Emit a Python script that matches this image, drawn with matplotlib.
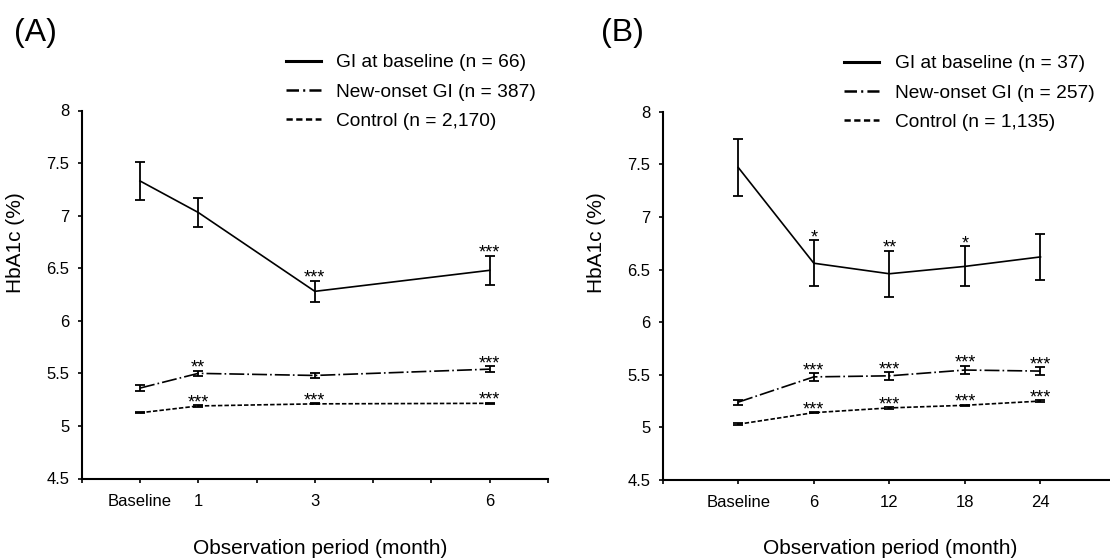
import matplotlib
matplotlib.use("Agg")
import matplotlib.pyplot as plt
from matplotlib.lines import Line2D
from matplotlib.ticker import FuncFormatter, FixedLocator

plt.rcParams["font.family"] = ["Liberation Sans", "DejaVu Sans"]
plt.rcParams["lines.scale_dashes"] = False

# ---- data: panel (A), months after baseline ----
a_months = [0, 1, 3, 6]
a_tick_labels = ["Baseline", "1", "3", "6"]
a_gi = [7.33, 7.03, 6.28, 6.48]
a_gi_err = [0.18, 0.135, 0.10, 0.14]
a_new = [5.36, 5.50, 5.48, 5.54]
a_new_err = [0.025, 0.027, 0.025, 0.027]
a_ctrl = [5.125, 5.19, 5.21, 5.215]
a_ctrl_err = [0.006, 0.006, 0.006, 0.006]
a_gi_stars = ["", "", "***", "***"]
a_new_stars = ["", "**", "", "***"]
a_ctrl_stars = ["", "***", "***", "***"]
a_legend = ["GI at baseline (n = 66)", "New-onset GI (n = 387)", "Control (n = 2,170)"]

# ---- data: panel (B), months after baseline ----
b_months = [0, 6, 12, 18, 24]
b_tick_labels = ["Baseline", "6", "12", "18", "24"]
b_gi = [7.47, 6.56, 6.46, 6.53, 6.62]
b_gi_err = [0.27, 0.22, 0.22, 0.19, 0.22]
b_new = [5.24, 5.48, 5.49, 5.545, 5.535]
b_new_err = [0.025, 0.035, 0.035, 0.04, 0.035]
b_ctrl = [5.03, 5.14, 5.185, 5.21, 5.25]
b_ctrl_err = [0.007, 0.007, 0.007, 0.007, 0.007]
b_gi_stars = ["", "*", "**", "*", ""]
b_new_stars = ["", "***", "***", "***", "***"]
b_ctrl_stars = ["", "***", "***", "***", "***"]
b_legend = ["GI at baseline (n = 37)", "New-onset GI (n = 257)", "Control (n = 1,135)"]

W, H = 1110, 560
DASHDOT = (0, (10.8, 2.2, 1.2, 2.2))
DASHED = (0, (3.2, 1.5))


def fx(px):
    return px / W


def fy(py):
    return 1 - py / H


def draw_panel(ax, x, series, ticks, tick_labels, xlim):
    for vals, errs, stars, ls in series:
        ax.errorbar(x, vals, yerr=errs, fmt="none", ecolor="black",
                    elinewidth=1.3, capsize=3.5, capthick=1.3, zorder=3)
        ax.plot(x, vals, color="black", lw=1.2, linestyle=ls, zorder=2)
        for xi, v, e, s in zip(x, vals, errs, stars):
            if s:
                ax.annotate(s, (xi, v + e), xytext=(0, -1.5), textcoords="offset points",
                            ha="center", va="baseline", fontsize=13)

    ax.set_xlim(*xlim)
    ax.set_ylim(4.5, 8)
    ax.set_yticks([4.5 + 0.5 * i for i in range(8)])
    ax.yaxis.set_major_formatter(FuncFormatter(lambda v, p: "%g" % v))
    ax.xaxis.set_major_locator(FixedLocator(ticks))
    ax.set_xticklabels(tick_labels)
    ax.spines["top"].set_visible(False)
    ax.spines["right"].set_visible(False)
    ax.spines["left"].set_linewidth(1.5)
    ax.spines["bottom"].set_linewidth(1.5)
    ax.tick_params(direction="out", length=3, width=1.2, labelsize=12, colors="black")
    ax.tick_params(axis="y", pad=6)
    ax.tick_params(axis="x", pad=8)


def add_legend(ax, labels, x0, y0):
    handles = [
        Line2D([], [], color="black", lw=2.2, linestyle="-"),
        Line2D([], [], color="black", lw=1.8, linestyle=(0, (9, 3, 1.5, 3))),
        Line2D([], [], color="black", lw=1.8, linestyle=(0, (4.5, 2.5))),
    ]
    ax.legend(handles, labels, loc="upper left", bbox_to_anchor=(fx(x0), fy(y0)),
              bbox_transform=ax.figure.transFigure, frameon=False, fontsize=13.8,
              borderpad=0, borderaxespad=0, handlelength=1.85, handletextpad=0.8,
              labelspacing=0.62)


fig = plt.figure(figsize=(W / 100, H / 100), dpi=100)

# Panel (A)
ax_a = fig.add_axes([fx(81.7), fy(478.5), fx(548 - 81.7), (478.5 - 110.5) / H])
a_x = a_months
a_ticks = list(range(-1, 8))
a_labels = []
for t in a_ticks:
    a_labels.append(a_tick_labels[a_months.index(t)] if t in a_months else "")
draw_panel(ax_a, a_x,
           [(a_gi, a_gi_err, a_gi_stars, "-"),
            (a_new, a_new_err, a_new_stars, DASHDOT),
            (a_ctrl, a_ctrl_err, a_ctrl_stars, DASHED)],
           a_ticks, a_labels, (-1, 7))
add_legend(ax_a, a_legend, 285.5, 54)

# Panel (B): one tick step = 6 months
ax_b = fig.add_axes([fx(662.7), fy(480), 1 - fx(662.7), (480 - 111.7) / H])
b_x = [m / 6 for m in b_months]
b_ticks = list(range(-1, 5))
b_labels = [""] + b_tick_labels
draw_panel(ax_b, b_x,
           [(b_gi, b_gi_err, b_gi_stars, "-"),
            (b_new, b_new_err, b_new_stars, DASHDOT),
            (b_ctrl, b_ctrl_err, b_ctrl_stars, DASHED)],
           b_ticks, b_labels, (-1, 4.92))
add_legend(ax_b, b_legend, 844, 55)

# panel letters and axis titles
fig.text(fx(14), fy(33), "(A)", fontsize=23, ha="left", va="center")
fig.text(fx(601), fy(33), "(B)", fontsize=23, ha="left", va="center")
fig.text(fx(15.5), fy(243), "HbA1c (%)", fontsize=15, rotation=90, ha="center", va="center")
fig.text(fx(596.5), fy(243), "HbA1c (%)", fontsize=15, rotation=90, ha="center", va="center")
fig.text(fx(320), fy(548), "Observation period (month)", fontsize=15, ha="center", va="center")
fig.text(fx(890), fy(548), "Observation period (month)", fontsize=15, ha="center", va="center")

fig.savefig("out.png", dpi=100)
